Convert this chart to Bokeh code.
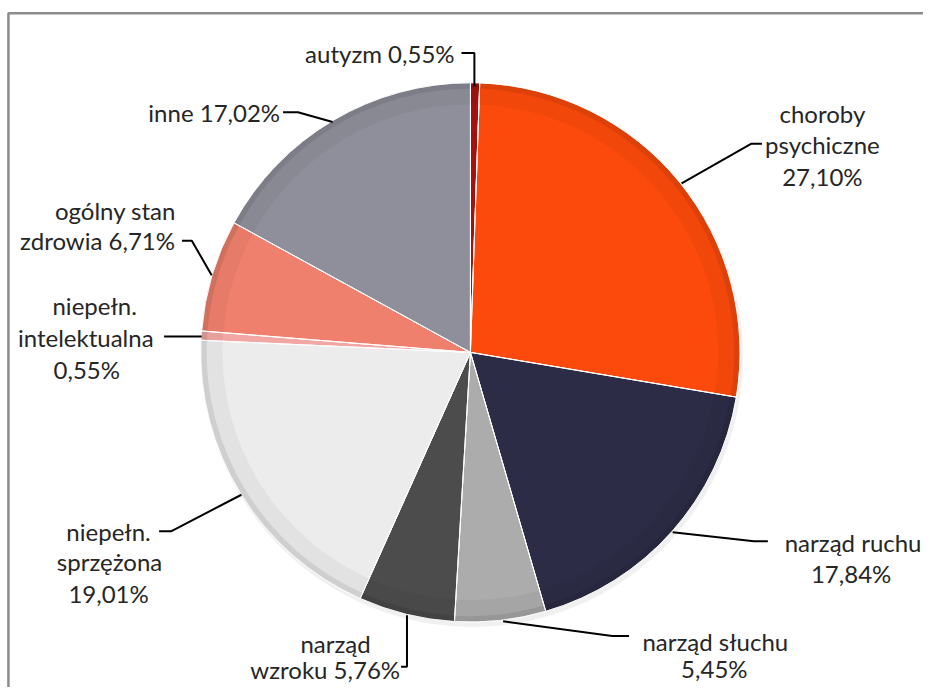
import math
from bokeh.plotting import figure
from bokeh.models import Range1d, ColumnDataSource
from bokeh.core.properties import value
from bokeh.embed import file_html
from bokeh.resources import INLINE

# ---- data ----
categories = ["autyzm", "choroby psychiczne", "narząd ruchu", "narząd słuchu",
              "narząd wzroku", "niepełn. sprzężona", "niepełn. intelektualna",
              "ogólny stan zdrowia", "inne"]
values = [0.55, 27.10, 17.84, 5.45, 5.76, 19.01, 0.55, 6.71, 17.02]
value_labels = ["0,55%", "27,10%", "17,84%", "5,45%", "5,76%", "19,01%", "0,55%", "6,71%", "17,02%"]
colors = ["#A3120F", "#FB4A0B", "#2C2C46", "#ACACAC", "#4C4C4C", "#ECECEC",
          "#F2A7A4", "#F0806E", "#8F8F9B"]

W, H = 923, 687
REF_W, REF_H = 931, 695


def Y(py):
    return REF_H - py


p = figure(width=W, height=H, output_backend="svg", toolbar_location=None,
           x_range=Range1d(0, REF_W), y_range=Range1d(0, REF_H),
           min_border=0)
p.axis.visible = False
p.grid.visible = False
p.outline_line_color = None
p.background_fill_color = "white"
p.border_fill_color = "white"

# frame
p.line([8, 8, 940], [Y(705), Y(13), Y(13)], line_color="#8C8C8C", line_width=2.5)

cx, cy, r = 474, Y(356), 272

total = sum(values)
starts, ends = [], []
cum = 0.0
for v in values:
    a0 = math.pi / 2 - 2 * math.pi * cum / total
    cum += v
    a1 = math.pi / 2 - 2 * math.pi * cum / total
    starts.append(a0)
    ends.append(a1)

src = ColumnDataSource(dict(start=starts, end=ends, color=colors, cat=categories))

# soft shadow
p.circle(x=cx + 2, y=cy - 4, radius=r + 1, fill_color="#000000", fill_alpha=0.06,
         line_color=None)

p.wedge(x=cx, y=cy, radius=r, start_angle="start", end_angle="end",
        direction="clock", fill_color="color", line_color="white", line_width=1,
        source=src)

# bevel-like shading near the rim
p.annular_wedge(x=cx, y=cy, inner_radius=r - 22, outer_radius=r - 6,
                start_angle="start", end_angle="end", direction="clock",
                fill_color="black", fill_alpha=0.04, line_color=None, source=src)
p.annular_wedge(x=cx, y=cy, inner_radius=r - 6, outer_radius=r,
                start_angle="start", end_angle="end", direction="clock",
                fill_color="black", fill_alpha=0.12, line_color=None, source=src)
p.wedge(x=cx, y=cy, radius=r, start_angle="start", end_angle="end",
        direction="clock", fill_color=None, line_color="white", line_width=1,
        line_alpha=0.6, source=src)

# ---- labels (layout) ----
font = value("Lato")
fs = "24px"
# (text, x, baseline ref-y, align)
label_lines = [
    ("autyzm " + value_labels[0], 458, 54, "right"),
    ("choroby", 829, 114, "center"),
    ("psychiczne", 829, 146, "center"),
    (value_labels[1], 829, 178, "center"),
    ("narząd ruchu", 860, 548, "center"),
    (value_labels[2], 858, 580, "center"),
    ("narząd słuchu", 721, 648, "center"),
    (value_labels[3], 720, 676, "center"),
    ("narząd", 338, 650, "center"),
    ("wzroku " + value_labels[4], 403, 677, "right"),
    ("niepełn.", 109, 537, "center"),
    ("sprzężona", 110, 568, "center"),
    (value_labels[5], 109, 600, "center"),
    ("niepełn.", 95, 309, "center"),
    ("intelektualna", 86, 341, "center"),
    (value_labels[6], 87, 373, "center"),
    ("ogólny stan", 177, 212, "right"),
    ("zdrowia " + value_labels[7], 176, 243, "right"),
    ("inne " + value_labels[8], 282, 113, "right"),
]
for t, x, by, al in label_lines:
    p.text(x=[x], y=[Y(by)], text=[t], text_font=font, text_font_size=fs,
           text_color="#262626", text_align=al, text_baseline="alphabetic")

leaders = [
    [(465, 53), (478, 53), (478, 87)],
    [(768, 145), (757, 145), (687, 185)],
    [(678, 538), (760, 547), (774, 547)],
    [(507, 628), (617, 643), (634, 643)],
    [(404, 674), (410, 674), (410, 622)],
    [(160, 537), (172, 537), (243, 500)],
    [(165, 340), (203, 340)],
    [(183, 243), (193, 243), (213, 278)],
    [(285, 113), (300, 113), (335, 123)],
]
p.multi_line(xs=[[pt[0] for pt in L] for L in leaders],
             ys=[[Y(pt[1]) for pt in L] for L in leaders],
             line_color="black", line_width=2)

open("out.html", "w").write(file_html(p, INLINE))
